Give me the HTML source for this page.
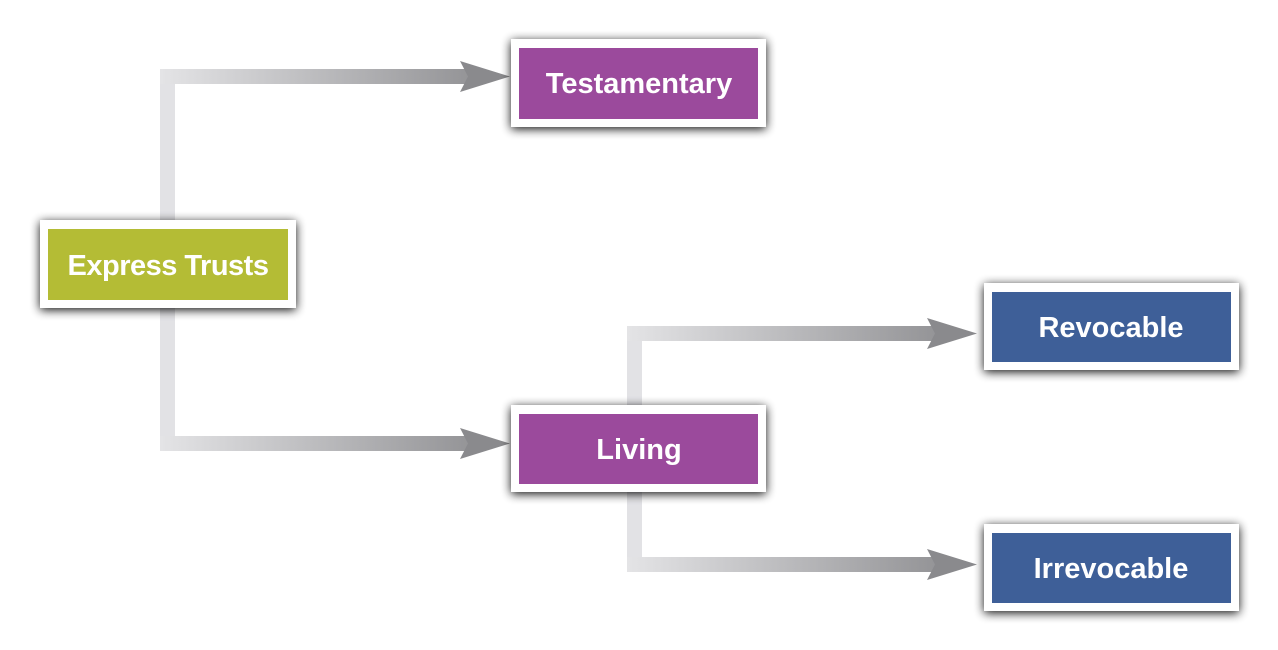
<!DOCTYPE html>
<html><head><meta charset="utf-8"><style>
html,body{margin:0;padding:0;background:#fff;width:1278px;height:650px;overflow:hidden}
text{font-family:"Liberation Sans",sans-serif;font-weight:bold;fill:#fff}
</style></head><body>
<svg width="1278" height="650" viewBox="0 0 1278 650" xmlns="http://www.w3.org/2000/svg">
<defs>
<linearGradient id="h1" x1="160" x2="510" gradientUnits="userSpaceOnUse"><stop offset="0" stop-color="#e4e4e6"/><stop offset="1" stop-color="#8a8a8d"/></linearGradient>
<linearGradient id="h2" x1="627" x2="976" gradientUnits="userSpaceOnUse"><stop offset="0" stop-color="#e4e4e6"/><stop offset="1" stop-color="#8a8a8d"/></linearGradient>
<filter id="sh" x="-20%" y="-40%" width="140%" height="180%"><feGaussianBlur in="SourceAlpha" stdDeviation="5"/><feOffset dy="2"/><feComponentTransfer><feFuncA type="linear" slope="0.95"/></feComponentTransfer><feMerge><feMergeNode/><feMergeNode in="SourceGraphic"/></feMerge></filter>
</defs>
<rect x="160" y="69" width="15" height="382" fill="#e2e2e5"/>
<rect x="160" y="69" width="310" height="15" fill="url(#h1)"/>
<polygon points="460,61 510,76.5 460,92 468,76.5" fill="#8a8a8d"/>
<rect x="160" y="436" width="310" height="15" fill="url(#h1)"/>
<polygon points="460,428 510,443.5 460,459 468,443.5" fill="#8a8a8d"/>
<rect x="627" y="326" width="15" height="246" fill="#e2e2e5"/>
<rect x="627" y="326" width="310" height="15" fill="url(#h2)"/>
<polygon points="927,318 977,333.5 927,349 935,333.5" fill="#8a8a8d"/>
<rect x="627" y="557" width="310" height="15" fill="url(#h2)"/>
<polygon points="927,549 977,564.5 927,580 935,564.5" fill="#8a8a8d"/>
<g filter="url(#sh)">
<rect x="40" y="220" width="256" height="88" fill="#fff"/>
<rect x="511" y="39" width="255" height="88" fill="#fff"/>
<rect x="511" y="405" width="255" height="87" fill="#fff"/>
<rect x="984" y="283" width="255" height="87" fill="#fff"/>
<rect x="984" y="524" width="255" height="87" fill="#fff"/>
</g>
<rect x="48" y="229" width="240" height="71" fill="#b4bc35"/>
<rect x="519" y="48" width="239" height="71" fill="#9b4a9c"/>
<rect x="519" y="414" width="239" height="70" fill="#9b4a9c"/>
<rect x="992" y="292" width="239" height="70" fill="#3e5f98"/>
<rect x="992" y="533" width="239" height="70" fill="#3e5f98"/>
<text x="168" y="275" font-size="29" text-anchor="middle" letter-spacing="-0.5">Express Trusts</text>
<text x="639" y="93" font-size="29" text-anchor="middle">Testamentary</text>
<text x="639" y="459" font-size="29" text-anchor="middle">Living</text>
<text x="1111" y="337" font-size="29" text-anchor="middle">Revocable</text>
<text x="1111" y="578" font-size="29" text-anchor="middle">Irrevocable</text>
</svg>
</body></html>
